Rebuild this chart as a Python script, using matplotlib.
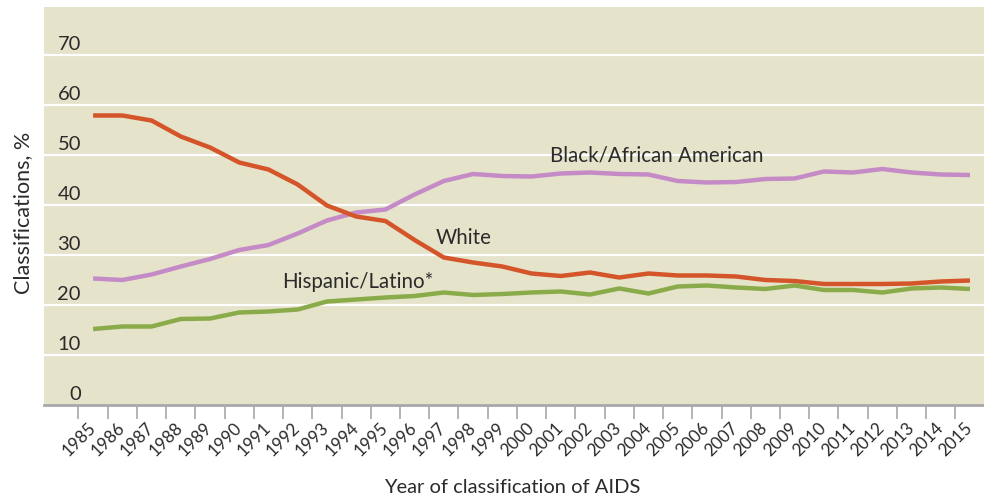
import matplotlib
matplotlib.use("Agg")
import matplotlib.pyplot as plt
import matplotlib.transforms as mtransforms

years = list(range(1985, 2016))

white = [57.9, 57.9, 56.9, 53.7, 51.5, 48.5, 47.1, 44.1, 39.9, 37.7, 36.8, 33.0,
         29.5, 28.5, 27.7, 26.3, 25.8, 26.5, 25.5, 26.3, 25.9, 25.9, 25.7, 25.0,
         24.8, 24.2, 24.2, 24.2, 24.3, 24.7, 24.9]

black = [25.3, 25.0, 26.1, 27.7, 29.2, 31.0, 32.0, 34.3, 36.9, 38.5, 39.1, 42.1,
         44.8, 46.2, 45.8, 45.7, 46.3, 46.5, 46.2, 46.1, 44.8, 44.5, 44.6, 45.2,
         45.3, 46.7, 46.5, 47.2, 46.5, 46.1, 46.0]

hispanic = [15.2, 15.7, 15.7, 17.2, 17.3, 18.5, 18.7, 19.1, 20.7, 21.1, 21.5, 21.8,
            22.5, 22.0, 22.2, 22.5, 22.7, 22.1, 23.3, 22.3, 23.7, 23.9, 23.5, 23.2,
            23.9, 23.0, 23.0, 22.5, 23.3, 23.5, 23.2]

y_ticks = [0, 10, 20, 30, 40, 50, 60, 70]

series_labels = ["White", "Black/African American", "Hispanic/Latino*"]

BG = "#e6e3cb"
TXT = "#2b2b2b"
C_WHITE = "#d4552a"
C_BLACK = "#c48bc6"
C_HISP = "#8aab4a"
AXIS_GRAY = "#a8a8a8"

plt.rcParams["font.family"] = ["Lato", "DejaVu Sans"]

fig = plt.figure(figsize=(9.84, 5.0), dpi=100)
ax = fig.add_axes([44 / 984, 95 / 500, 940 / 984, 398 / 500])
ax.set_facecolor(BG)

x = list(range(len(years)))
ax.set_xlim(-1.68, 30.48)
ax.set_ylim(0, 79.6)

# horizontal white grid
for v in y_ticks[1:]:
    ax.axhline(v, color="white", lw=1.6, zorder=1)

ax.plot(x, black, color=C_BLACK, lw=3.2, zorder=3, solid_capstyle="butt")
ax.plot(x, hispanic, color=C_HISP, lw=3.2, zorder=3, solid_capstyle="butt")
ax.plot(x, white, color=C_WHITE, lw=3.2, zorder=4, solid_capstyle="butt")

# y tick labels sit just above their gridlines
off = mtransforms.offset_copy(ax.transData, fig=fig, x=0, y=5.5, units="dots")
ylab_tr = mtransforms.blended_transform_factory(ax.transAxes, off)
for v in y_ticks:
    ax.text(37 / 940, v, str(v), transform=ylab_tr,
            ha="right", va="baseline", fontsize=14.5, color=TXT)

ax.set_yticks([])

# x ticks at category boundaries, labels under each year
ax.set_xticks([i - 0.5 for i in x])
ax.set_xticklabels([])
ax.tick_params(axis="x", length=10, width=1.2, color=AXIS_GRAY, direction="out")
for i, yr in zip(x, years):
    ax.text(i - 0.2, -3.0, str(yr), rotation=45, ha="right", va="top",
            rotation_mode="anchor", fontsize=12.3, color=TXT, clip_on=False)

for s in ["top", "right", "left"]:
    ax.spines[s].set_visible(False)
ax.spines["bottom"].set_color(AXIS_GRAY)
ax.spines["bottom"].set_linewidth(2)

# series labels
ax.text(15.63, 48.8, series_labels[1], fontsize=14.8, color=TXT, ha="left", va="baseline")
ax.text(11.72, 32.2, series_labels[0], fontsize=14.8, color=TXT, ha="left", va="baseline")
ax.text(6.46, 23.3, series_labels[2], fontsize=14.8, color=TXT, ha="left", va="baseline")

fig.text(23 / 984, 0.574, "Classifications, %", rotation=90, ha="center", va="center",
         fontsize=15.5, color=TXT)
fig.text(512 / 984, 1 - 493 / 500, "Year of classification of AIDS", ha="center",
         va="baseline", fontsize=14.5, color=TXT)

fig.savefig("out.png", dpi=100, facecolor="white")
